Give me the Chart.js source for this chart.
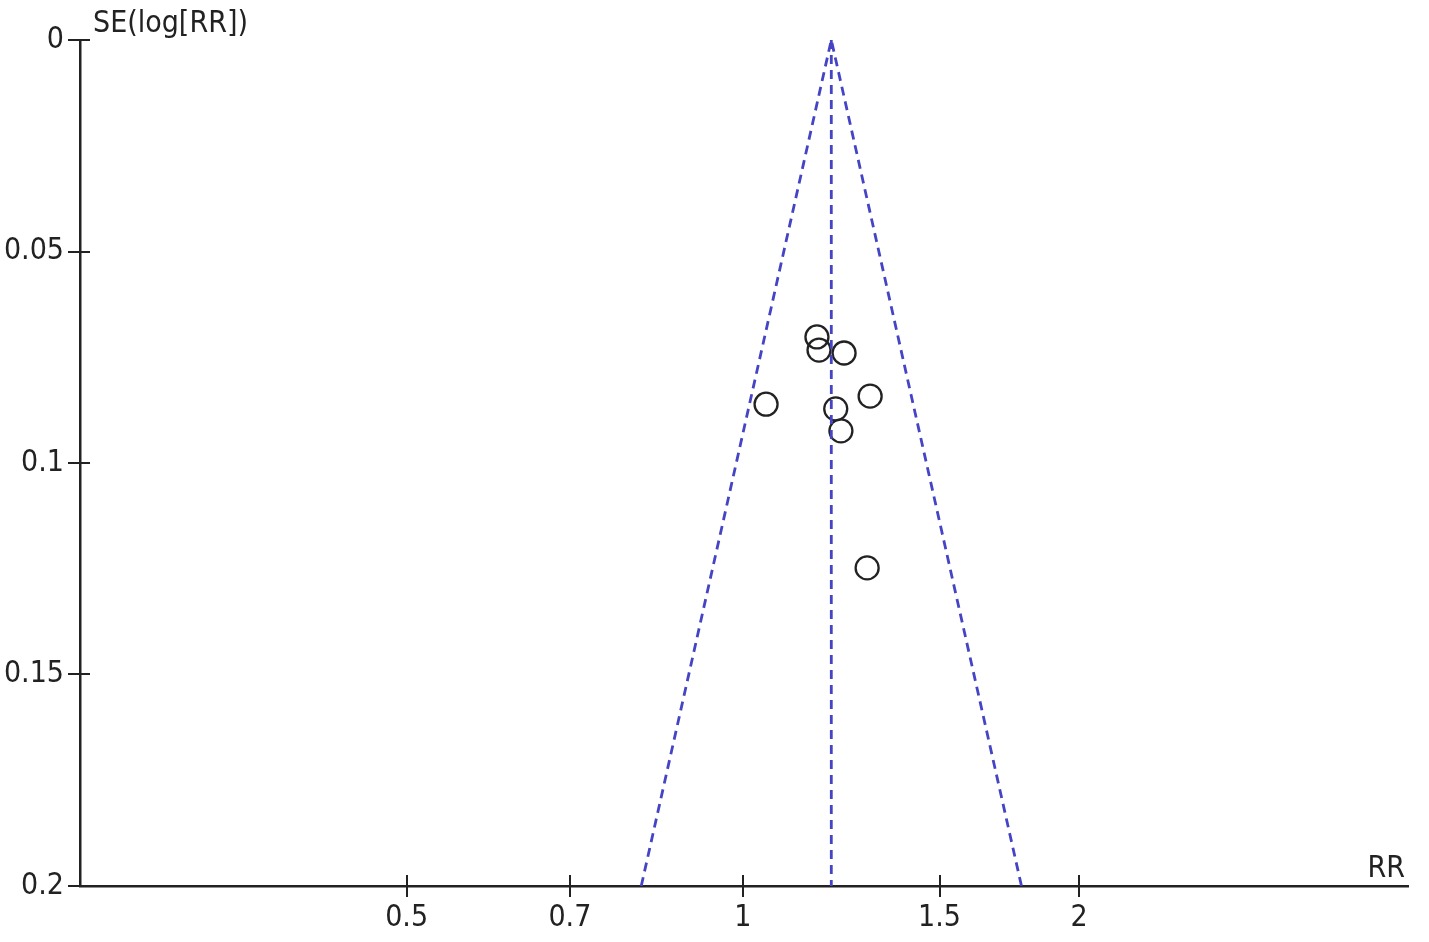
<!DOCTYPE html>
<html>
<head>
<meta charset="utf-8">
<script src="https://cdn.jsdelivr.net/npm/chart.js@4/dist/chart.umd.min.js"></script>
<style>
  html, body { margin: 0; padding: 0; background: #fff; }
  #wrap { width: 1429px; height: 942px; }
</style>
</head>
<body>
<div id="wrap"><canvas id="funnel"></canvas></div>
<script>
// study estimates
const studyRR = [1.165, 1.170, 1.232, 1.049, 1.300, 1.211, 1.224, 1.292];
const studySE = [0.0702, 0.0733, 0.0740, 0.0861, 0.0842, 0.0872, 0.0924, 0.1248];

// pooled estimate and funnel limits at SE = 0.2
const pooledRR = 1.2;
const funnelRR = [0.811, 1.2, 1.776];
const funnelSE = [0.2, 0, 0.2];

const xTicks = [0.5, 0.7, 1, 1.5, 2];
const yTicks = [0, 0.05, 0.1, 0.15, 0.2];

const FONT = "'Liberation Sans Narrow', 'DejaVu Sans Condensed', 'Liberation Sans', sans-serif";
const lineBlue = "#4444c4";

document.addEventListener("DOMContentLoaded", function () {
    let ctx = document.getElementById("funnel").getContext("2d");

    // ticks that cross the axis line, plus the two axis captions
    const axisExtras = {
        id: "axisExtras",
        afterDraw(chart) {
            const c = chart.ctx;
            const xs = chart.scales.x, ys = chart.scales.y;
            const area = chart.chartArea;
            c.save();
            c.strokeStyle = "#222";
            c.lineWidth = 2;
            c.beginPath();
            xTicks.forEach(v => {
                const px = Math.round(xs.getPixelForValue(v));
                c.moveTo(px, area.bottom - 11);
                c.lineTo(px, area.bottom + 11);
            });
            yTicks.forEach(v => {
                const py = Math.round(ys.getPixelForValue(v));
                c.moveTo(area.left - 12, py);
                c.lineTo(area.left + 10, py);
            });
            c.stroke();

            c.fillStyle = "#222";
            c.font = "30px " + FONT;
            c.textBaseline = "alphabetic";
            c.textAlign = "left";
            c.fillText("SE(log[RR])", area.left + 13, 32);
            c.textAlign = "right";
            c.fillText("RR", area.right - 3, area.bottom - 9);
            c.restore();
        }
    };

    new Chart(ctx, {
        data: {
            datasets: [{
                type: "line",
                data: funnelRR.map((r, i) => ({ x: r, y: funnelSE[i] })),
                borderColor: lineBlue,
                borderWidth: 2.8,
                borderDash: [9, 6],
                pointRadius: 0,
                fill: false,
                tension: 0
            }, {
                type: "line",
                data: [{ x: pooledRR, y: 0 }, { x: pooledRR, y: 0.2 }],
                borderColor: lineBlue,
                borderWidth: 2.8,
                borderDash: [9, 6],
                pointRadius: 0,
                fill: false
            }, {
                type: "scatter",
                data: studyRR.map((r, i) => ({ x: r, y: studySE[i] })),
                pointStyle: "circle",
                pointRadius: 11.5,
                pointBorderWidth: 2.3,
                pointBorderColor: "#222",
                pointBackgroundColor: "rgba(0,0,0,0)"
            }]
        },
        options: {
            responsive: true,
            maintainAspectRatio: false,
            animation: false,
            layout: { padding: { top: 40, right: 21, left: 0, bottom: 0 } },
            plugins: {
                legend: { display: false },
                tooltip: { enabled: false }
            },
            scales: {
                x: {
                    type: "logarithmic",
                    min: 0.255,
                    max: 3.94,
                    afterBuildTicks: s => { s.ticks = xTicks.map(v => ({ value: v })); },
                    afterFit: s => { s.height = 56; },
                    grid: { display: false, drawTicks: false },
                    border: { display: true, color: "#222", width: 2.5 },
                    ticks: {
                        color: "#222",
                        padding: 14,
                        autoSkip: false,
                        maxRotation: 0,
                        font: { family: FONT, size: 30 },
                        callback: v => String(v)
                    }
                },
                y: {
                    type: "linear",
                    reverse: true,
                    min: 0,
                    max: 0.2,
                    afterBuildTicks: s => { s.ticks = yTicks.map(v => ({ value: v })); },
                    afterFit: s => { s.width = 80; },
                    grid: { display: false, drawTicks: false },
                    border: { display: true, color: "#222", width: 2.5 },
                    ticks: {
                        color: "#222",
                        padding: 16,
                        font: { family: FONT, size: 30 },
                        callback: v => String(v)
                    }
                }
            }
        },
        plugins: [axisExtras]
    });
});
</script>
</body>
</html>
